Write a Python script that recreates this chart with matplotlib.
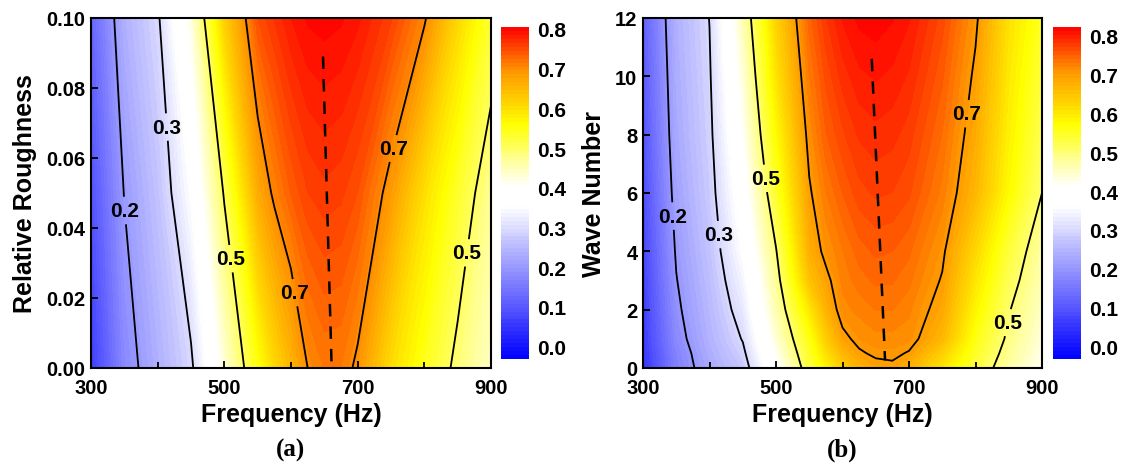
import numpy as np
import matplotlib
matplotlib.use("Agg")
import matplotlib.pyplot as plt
from matplotlib.colors import LinearSegmentedColormap, Normalize
from matplotlib.ticker import FormatStrFormatter, MultipleLocator

plt.rcParams["font.family"] = ["Liberation Sans", "DejaVu Sans"]
plt.rcParams["font.weight"] = "bold"
plt.rcParams["axes.labelweight"] = "bold"

# --- data -----------------------------------------------------------------
freq = [300, 350, 400, 450, 500, 550, 575, 600, 625, 650, 675, 700, 750, 800, 850, 900]

# (a) absorption vs frequency, one row per relative roughness
rough = [0.0, 0.05, 0.10]
abs_r000 = [0.06, 0.175, 0.234, 0.291, 0.426, 0.55, 0.607, 0.653, 0.70, 0.716, 0.715, 0.693, 0.604, 0.544, 0.488, 0.44]
abs_r005 = [0.09, 0.202, 0.263, 0.353, 0.505, 0.665, 0.708, 0.736, 0.755, 0.762, 0.758, 0.745, 0.685, 0.60, 0.533, 0.47]
abs_r010 = [0.12, 0.235, 0.293, 0.421, 0.62, 0.745, 0.766, 0.785, 0.797, 0.80, 0.797, 0.788, 0.757, 0.705, 0.61, 0.53]
ridge_a_freq = [648, 661]
ridge_a_rough = [0.089, 0.0]

# (b) absorption vs frequency, one row per wave number
wave = [0, 0.5, 1, 2, 3, 4, 6, 8, 10, 12]
abs_w00 = [0.050, 0.165, 0.229, 0.275, 0.400, 0.530, 0.585, 0.633, 0.668, 0.688, 0.693, 0.674, 0.607, 0.533, 0.471, 0.420]
abs_w05 = [0.055, 0.170, 0.236, 0.289, 0.419, 0.545, 0.610, 0.665, 0.695, 0.706, 0.707, 0.697, 0.632, 0.547, 0.481, 0.428]
abs_w01 = [0.060, 0.180, 0.244, 0.303, 0.438, 0.559, 0.635, 0.690, 0.710, 0.717, 0.717, 0.714, 0.665, 0.560, 0.491, 0.435]
abs_w02 = [0.065, 0.190, 0.253, 0.324, 0.461, 0.600, 0.670, 0.716, 0.724, 0.731, 0.731, 0.723, 0.685, 0.584, 0.503, 0.450]
abs_w03 = [0.070, 0.198, 0.261, 0.343, 0.479, 0.650, 0.690, 0.724, 0.736, 0.743, 0.742, 0.734, 0.697, 0.603, 0.519, 0.460]
abs_w04 = [0.075, 0.205, 0.269, 0.362, 0.497, 0.675, 0.710, 0.730, 0.746, 0.753, 0.751, 0.743, 0.707, 0.622, 0.534, 0.470]
abs_w06 = [0.085, 0.218, 0.281, 0.387, 0.541, 0.695, 0.730, 0.751, 0.767, 0.773, 0.771, 0.763, 0.727, 0.665, 0.577, 0.500]
abs_w08 = [0.095, 0.228, 0.289, 0.413, 0.575, 0.713, 0.750, 0.769, 0.783, 0.788, 0.785, 0.776, 0.740, 0.680, 0.590, 0.520]
abs_w10 = [0.105, 0.234, 0.295, 0.434, 0.606, 0.730, 0.764, 0.786, 0.799, 0.803, 0.799, 0.790, 0.753, 0.693, 0.600, 0.535]
abs_w12 = [0.115, 0.240, 0.301, 0.458, 0.629, 0.746, 0.780, 0.803, 0.815, 0.818, 0.813, 0.803, 0.766, 0.707, 0.610, 0.550]
ridge_b_freq = [644, 664]
ridge_b_wave = [10.6, 0.26]

line_levels = [0.2, 0.3, 0.5, 0.7]
cbar_ticks = [0.0, 0.1, 0.2, 0.3, 0.4, 0.5, 0.6, 0.7, 0.8]

# --- style ------------------------------------------------------------------
cmap = LinearSegmentedColormap.from_list("bwyr", [
    (0.0, (0, 0, 1)), (0.46, (1, 1, 1)), (0.52, (1, 1, 1)),
    (0.71, (1, 1, 0)), (0.88, (1, 0.55, 0)), (1.0, (1, 0, 0))])

W, H = 1123, 464
fig = plt.figure(figsize=(W / 100, H / 100), dpi=100)

def px(x0, y0, x1, y1):
    return [x0 / W, 1 - y1 / H, (x1 - x0) / W, (y1 - y0) / H]

panels = [
    dict(y=rough, z=[abs_r000, abs_r005, abs_r010], vmin=-0.031, vmax=0.805,
         ax=px(91, 19, 491, 369), cax=px(501, 28, 529, 360),
         ridge=(ridge_a_freq, ridge_a_rough), ylabel="Relative Roughness",
         ylim=(0, 0.1), yticks=np.arange(0, 0.101, 0.02), yfmt="%.2f", ylx=-0.165,
         labels=[(351, 0.045), (426, 0.069), (500, 0.031), (590, 0.021), (768, 0.062), (860, 0.033)],
         tag="(a)"),
    dict(y=wave, z=[abs_w00, abs_w05, abs_w01, abs_w02, abs_w03, abs_w04,
                    abs_w06, abs_w08, abs_w10, abs_w12],
         vmin=-0.032, vmax=0.822,
         ax=px(643, 19, 1042, 369), cax=px(1053, 28, 1081, 360),
         ridge=(ridge_b_freq, ridge_b_wave), ylabel="Wave Number",
         ylim=(0, 12), yticks=np.arange(0, 13, 2), yfmt="%d", ylx=-0.122,
         labels=[(338, 5.2), (428, 4.6), (483, 6.5), (793, 8.7), (850, 1.55)],
         tag="(b)"),
]

for p in panels:
    ax = fig.add_axes(p["ax"])
    Z = np.array(p["z"])
    levels = np.linspace(p["vmin"], p["vmax"], 85)
    norm = Normalize(p["vmin"], p["vmax"])
    cf = ax.contourf(freq, p["y"], Z, levels=levels, cmap=cmap, norm=norm)
    cs = ax.contour(freq, p["y"], Z, levels=line_levels, colors="k", linewidths=1.3)
    # small font while cutting the gaps, then upright, full-size labels
    texts = ax.clabel(cs, manual=p["labels"], inline=True, fmt="%.1f",
                      fontsize=8, inline_spacing=6)
    for t in texts:
        t.set_rotation(0)
        t.set_fontsize(15)
    ax.plot(p["ridge"][0], p["ridge"][1], color="k", lw=1.8, dashes=(5, 4))

    ax.set_xlim(300, 900)
    ax.set_ylim(*p["ylim"])
    ax.set_xticks([300, 500, 700, 900])
    ax.xaxis.set_minor_locator(MultipleLocator(100))
    ax.set_yticks(p["yticks"])
    ax.yaxis.set_major_formatter(FormatStrFormatter(p["yfmt"]))
    ax.tick_params(which="both", direction="in", width=1.3, labelsize=14.5)
    ax.tick_params(axis="x", pad=7)
    ax.tick_params(axis="y", pad=4)
    ax.tick_params(which="major", length=5)
    ax.tick_params(which="minor", length=4)
    for s in ax.spines.values():
        s.set_linewidth(1.5)

    ax.set_xlabel("Frequency (Hz)", fontsize=18)
    ax.xaxis.set_label_coords(0.5, -0.131)
    ax.xaxis.label.set_va("center")
    ax.set_ylabel(p["ylabel"], fontsize=18)
    ax.yaxis.set_label_coords(p["ylx"], 0.5)
    ax.yaxis.label.set_va("center")

    bb = p["ax"]
    fig.text(bb[0] + bb[2] / 2, 1 - 450 / H, p["tag"], ha="center", va="center",
             fontsize=18, family=["Liberation Serif", "DejaVu Serif"], weight="bold")

    cax = fig.add_axes(p["cax"])
    cb = fig.colorbar(cf, cax=cax, ticks=cbar_ticks)
    cb.outline.set_visible(False)
    cb.ax.yaxis.set_major_formatter(FormatStrFormatter("%.1f"))
    cb.ax.tick_params(length=0, labelsize=15, pad=6)

fig.savefig("out.png", dpi=100)
